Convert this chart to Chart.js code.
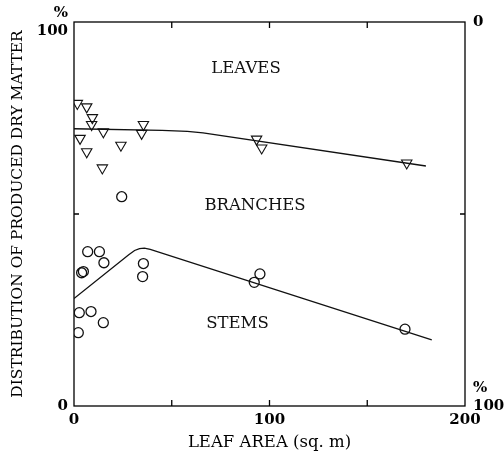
<!DOCTYPE html>
<html>
<head>
<meta charset="utf-8">
<title>Distribution of produced dry matter</title>
<script src="https://cdn.jsdelivr.net/npm/chart.js@4.4.1/dist/chart.umd.min.js"></script>
<style>
  html, body { margin: 0; padding: 0; background: #fff; }
  #wrap { width: 504px; height: 468px; }
</style>
</head>
<body>
<div id="wrap"><canvas id="myChart"></canvas></div>
<script>
// leaves / branches boundary (triangles), leaf area in sq. m vs cumulative %
const triArea = [1.7, 6.5, 9.4, 9.0, 3.1, 15.0, 6.5, 24.0, 14.5, 35.5, 34.6, 93.4, 96.0, 170.2];
const triPct  = [78.8, 77.9, 75.1, 73.3, 69.7, 71.4, 66.2, 67.9, 62.0, 73.3, 71.0, 69.5, 67.2, 63.3];

// branches / stems boundary (circles)
const circArea = [7.0, 13.0, 15.3, 4.8, 3.9, 35.5, 35.1, 2.7, 8.7, 15.0, 2.2, 24.4, 95.1, 92.2, 169.3];
const circPct  = [40.2, 40.2, 37.3, 35.0, 34.7, 37.1, 33.7, 24.3, 24.6, 21.7, 19.1, 54.5, 34.4, 32.2, 20.0];

// fitted boundary curves
const upperArea = [0, 45, 58, 66, 180];
const upperPct  = [72.2, 71.8, 71.5, 71.1, 62.5];
const lowerArea = [0, 28, 31, 33.5, 36, 39, 183];
const lowerPct  = [28.0, 39.4, 40.5, 41.0, 41.1, 40.8, 17.2];

const xTickVals = [0, 100, 200];
const yTickVals = [0, 100];

// region names placed in data units
const regionNames = ['LEAVES', 'BRANCHES', 'STEMS'];
const regionArea  = [88, 92.6, 83.6];
const regionPct   = [86.6, 51.0, 20.2];

const SERIF = '"DejaVu Serif", serif';
const pts = (xs, ys) => xs.map((x, i) => ({ x: x, y: ys[i] }));

// box round the plot, short inside ticks and the region names
const frame = {
  id: 'frame',
  beforeDatasetsDraw(chart) {
    const { ctx, chartArea: a, scales: { x, y } } = chart;
    ctx.save();
    ctx.strokeStyle = '#000';
    ctx.lineWidth = 1.3;
    ctx.strokeRect(a.left, a.top, a.right - a.left, a.bottom - a.top);
    ctx.beginPath();
    [50, 100, 150].forEach(v => {
      const px = x.getPixelForValue(v);
      ctx.moveTo(px, a.top); ctx.lineTo(px, a.top + 6);
      ctx.moveTo(px, a.bottom); ctx.lineTo(px, a.bottom - 6);
    });
    const py = y.getPixelForValue(50);
    ctx.moveTo(a.left, py); ctx.lineTo(a.left + 5, py);
    ctx.moveTo(a.right, py); ctx.lineTo(a.right - 5, py);
    ctx.stroke();

    ctx.fillStyle = '#111';
    ctx.font = '16.5px ' + SERIF;
    ctx.textAlign = 'center';
    ctx.textBaseline = 'alphabetic';
    regionNames.forEach((t, i) => {
      ctx.fillText(t, x.getPixelForValue(regionArea[i]), y.getPixelForValue(regionPct[i]));
    });
    ctx.restore();
  }
};

const tickFont = { family: SERIF, size: 15, weight: 'bold' };

// keep the plot box fixed: no extra room for overhanging tick labels
const noOverhang = s => {
  s.paddingTop = 0; s.paddingBottom = 0; s.paddingLeft = 0; s.paddingRight = 0;
};

const curve = {
  showLine: true,
  pointRadius: 0,
  borderColor: '#111',
  borderWidth: 1.3,
  tension: 0
};

new Chart(document.getElementById('myChart'), {
  type: 'scatter',
  data: {
    datasets: [
      Object.assign({ data: pts(upperArea, upperPct) }, curve),
      Object.assign({ data: pts(lowerArea, lowerPct) }, curve),
      {
        data: pts(triArea, triPct),
        pointStyle: 'triangle',
        rotation: 180,
        pointRadius: 6,
        borderColor: '#111',
        borderWidth: 1.1,
        backgroundColor: 'rgba(255,255,255,0)'
      },
      {
        data: pts(circArea, circPct),
        pointStyle: 'circle',
        pointRadius: 5,
        borderColor: '#111',
        borderWidth: 1.3,
        backgroundColor: 'rgba(255,255,255,0)'
      }
    ]
  },
  options: {
    responsive: true,
    maintainAspectRatio: false,
    animation: false,
    layout: { padding: { top: 22, left: 0, right: 0, bottom: 0 } },
    plugins: { legend: { display: false }, tooltip: { enabled: false } },
    scales: {
      x: {
        type: 'linear', min: 0, max: 200,
        afterBuildTicks: s => { s.ticks = xTickVals.map(v => ({ value: v })); },
        grid: { display: false, drawTicks: false },
        border: { display: false },
        ticks: { font: tickFont, color: '#000', padding: 5, maxRotation: 0 },
        title: {
          display: true, text: 'LEAF AREA (sq. m)', color: '#000',
          font: { family: SERIF, size: 16.5 }, padding: { top: 0, bottom: 15 }
        },
        afterFit: s => { s.height = 62; noOverhang(s); }
      },
      y: {
        type: 'linear', min: 0, max: 100,
        afterBuildTicks: s => { s.ticks = yTickVals.map(v => ({ value: v })); },
        grid: { display: false, drawTicks: false },
        border: { display: false },
        ticks: {
          font: tickFont, color: '#000', padding: 6,
          callback: v => v === 100 ? ['%', '100'] : '0'
        },
        title: {
          display: true, text: 'DISTRIBUTION OF PRODUCED DRY MATTER', color: '#000',
          font: { family: SERIF, size: 15.5 }, padding: { top: 9, bottom: 0 }
        },
        afterFit: s => { s.width = 74; noOverhang(s); }
      },
      y2: {
        type: 'linear', position: 'right', reverse: true, min: 0, max: 100,
        afterBuildTicks: s => { s.ticks = yTickVals.map(v => ({ value: v })); },
        grid: { display: false, drawTicks: false },
        border: { display: false },
        ticks: {
          font: tickFont, color: '#000', padding: 8,
          callback: v => v === 100 ? ['%', '100', ''] : '0'
        },
        afterFit: s => { s.width = 39; noOverhang(s); }
      }
    }
  },
  plugins: [frame]
});
</script>
</body>
</html>
